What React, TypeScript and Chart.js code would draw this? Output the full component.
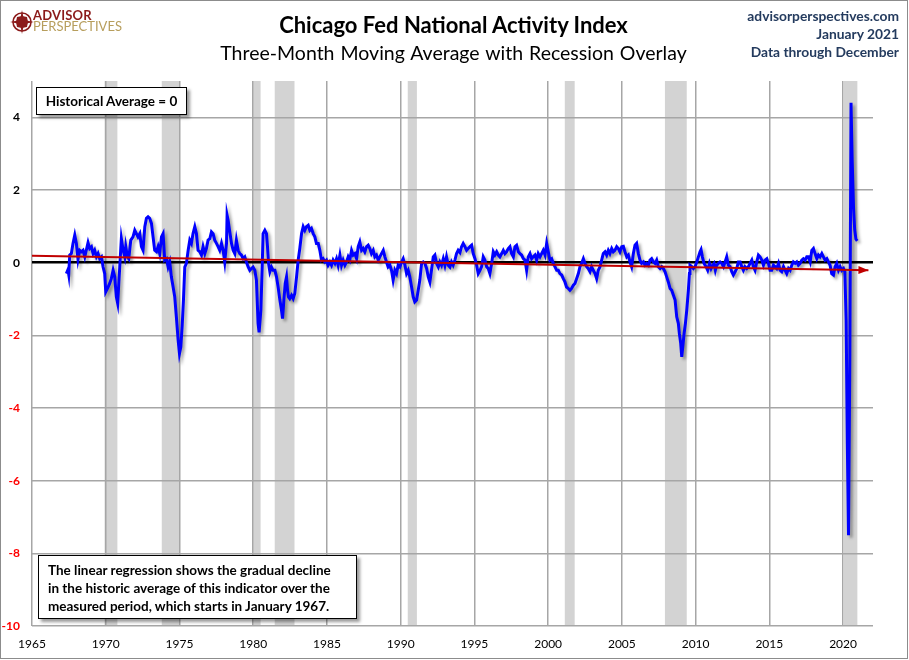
import { useEffect, useRef } from "react";
import { Chart, registerables } from "chart.js";

Chart.register(...registerables);

// CFNAI three-month moving average, [decimal year, value]
const ma3Early: [number, number][] = [
  [1967.33, -0.30], [1967.44, -0.19], [1967.49, -0.32], [1967.56, 0.21], [1967.67, 0.25], [1967.78, 0.53],
  [1967.90, 0.76], [1968.01, 0.53], [1968.12, 0.09], [1968.24, 0.34], [1968.35, 0.30], [1968.46, 0.34],
  [1968.58, 0.16], [1968.80, 0.55], [1968.91, 0.39], [1969.03, 0.44], [1969.14, 0.25], [1969.25, 0.34],
  [1969.37, 0.16], [1969.48, 0.25], [1969.59, 0.11], [1969.71, 0.16], [1969.82, -0.12], [1969.93, -0.30],
  [1970.00, -0.80], [1970.16, -0.67], [1970.27, -0.57], [1970.38, -0.44], [1970.50, -0.21], [1970.61, -0.39],
  [1970.72, -0.94], [1970.81, -1.12], [1970.95, -0.12], [1971.06, 0.66], [1971.18, 0.34], [1971.29, 0.16],
  [1971.36, 0.44], [1971.47, 0.16], [1971.56, 0.11], [1971.70, 0.62], [1971.85, 0.71], [1971.97, 0.89],
  [1972.08, 0.80], [1972.19, 0.71], [1972.31, 0.80], [1972.42, 0.44], [1972.53, 0.34], [1972.65, 0.99],
  [1972.76, 1.22], [1972.87, 1.26], [1972.98, 1.22], [1973.10, 1.08], [1973.21, 0.71], [1973.32, 0.34],
  [1973.44, 0.30], [1973.55, 0.44], [1973.66, 0.25], [1973.78, 0.71], [1973.89, 0.80], [1974.00, 0.07],
  [1974.12, 0.11], [1974.23, -0.12], [1974.34, 0.02], [1974.45, -0.39], [1974.57, -0.67], [1974.68, -0.94],
  [1974.79, -1.49], [1974.91, -2.13], [1975.00, -2.50], [1975.09, -2.32], [1975.18, -1.77], [1975.27, -1.03],
  [1975.36, -0.12], [1975.47, -0.02], [1975.59, 0.34], [1975.70, 0.62], [1975.81, 0.53], [1975.92, 0.80],
  [1976.04, 0.99], [1976.15, 0.80], [1976.26, 0.34], [1976.38, 0.30], [1976.49, 0.21], [1976.60, 0.44],
  [1976.72, 0.25], [1976.83, 0.39], [1976.94, 0.62], [1977.06, 0.66], [1977.17, 0.85], [1977.28, 0.80],
  [1977.39, 0.62], [1977.51, 0.53], [1977.62, 0.44], [1977.73, 0.34], [1977.85, 0.53], [1977.96, 0.34],
  [1978.07, 0.02], [1978.19, 0.53], [1978.23, 1.31], [1978.30, 1.17], [1978.41, 0.85], [1978.53, 0.53],
  [1978.64, 0.34], [1978.75, 0.25], [1978.86, 0.62], [1978.98, 0.34], [1979.09, 0.25], [1979.20, 0.21],
  [1979.32, 0.11], [1979.43, 0.16], [1979.54, 0.02], [1979.66, -0.12], [1979.77, -0.21], [1979.88, -0.16],
  [1979.99, -0.12], [1980.11, -0.21], [1980.22, -0.48], [1980.33, -1.67], [1980.40, -1.92], [1980.52, -1.31],
  [1980.61, -0.12], [1980.67, 0.80], [1980.79, 0.89],
];

const ma3Eighties: [number, number][] = [
  [1980.90, 0.80], [1980.97, 0.44], [1981.04, -0.02], [1981.13, -0.25], [1981.24, -0.12], [1981.35, -0.21],
  [1981.47, -0.21], [1981.58, -0.39], [1981.69, -0.67], [1981.81, -1.03], [1981.92, -1.31], [1981.99, -1.54],
  [1982.08, -1.03], [1982.17, -0.57], [1982.26, -0.39], [1982.33, -0.76], [1982.39, -0.94], [1982.48, -0.99],
  [1982.60, -0.90], [1982.71, -0.99], [1982.82, -0.85], [1982.94, -0.39], [1983.05, 0.07], [1983.16, 0.39],
  [1983.28, 0.80], [1983.39, 0.99], [1983.50, 0.89], [1983.61, 0.99], [1983.73, 1.03], [1983.84, 0.89],
  [1983.95, 0.94], [1984.07, 0.80], [1984.18, 0.71], [1984.29, 0.53], [1984.41, 0.53], [1984.52, 0.34],
  [1984.63, 0.07], [1984.74, 0.11], [1984.86, 0.02], [1984.97, 0.07], [1985.08, -0.07], [1985.20, 0.02],
  [1985.31, -0.07], [1985.42, 0.07], [1985.54, -0.02], [1985.65, 0.11], [1985.76, -0.07], [1985.88, 0.21],
  [1985.99, -0.07], [1986.10, 0.07], [1986.22, -0.07], [1986.33, 0.02], [1986.44, 0.16], [1986.55, 0.07],
  [1986.67, 0.34], [1986.78, 0.21], [1986.89, 0.25], [1987.01, 0.11], [1987.12, 0.44], [1987.23, 0.57],
  [1987.35, 0.34], [1987.46, 0.39], [1987.57, 0.30], [1987.69, 0.44], [1987.80, 0.48], [1987.91, 0.39],
  [1988.02, 0.25], [1988.14, 0.34], [1988.25, 0.16], [1988.36, 0.21], [1988.48, 0.07], [1988.59, 0.16],
  [1988.70, 0.25], [1988.82, 0.34], [1988.93, 0.16], [1989.04, 0.02], [1989.15, -0.12], [1989.27, -0.07],
  [1989.38, -0.21], [1989.49, -0.48], [1989.61, -0.21], [1989.72, -0.30], [1989.83, -0.07], [1989.95, -0.12],
  [1990.06, 0.02], [1990.17, 0.11], [1990.29, -0.07], [1990.40, -0.30], [1990.51, -0.21], [1990.62, -0.39],
  [1990.74, -0.67], [1990.85, -0.94], [1990.96, -1.08], [1991.08, -1.03], [1991.19, -0.76], [1991.30, -0.48],
  [1991.42, -0.02], [1991.53, 0.02], [1991.64, -0.02], [1991.76, -0.16], [1991.87, -0.39], [1991.98, -0.53],
  [1992.09, -0.21], [1992.21, 0.16], [1992.32, 0.21], [1992.43, -0.02], [1992.55, -0.12], [1992.66, 0.02],
  [1992.77, -0.07], [1992.89, 0.11], [1993.00, -0.07], [1993.11, 0.16], [1993.23, -0.07], [1993.34, -0.12],
  [1993.45, 0.02], [1993.56, -0.07], [1993.68, 0.07], [1993.79, 0.25], [1993.90, 0.34], [1994.02, 0.28],
];

const ma3Nineties: [number, number][] = [
  [1994.13, 0.44], [1994.24, 0.53], [1994.36, 0.44], [1994.47, 0.34], [1994.58, 0.39], [1994.70, 0.44],
  [1994.81, 0.48], [1994.92, 0.25], [1995.04, 0.11], [1995.15, -0.07], [1995.26, -0.30], [1995.38, -0.21],
  [1995.49, -0.11], [1995.60, 0.16], [1995.71, 0.07], [1995.83, -0.11], [1995.94, -0.16], [1996.05, -0.30],
  [1996.17, -0.02], [1996.28, 0.30], [1996.39, 0.21], [1996.51, 0.30], [1996.62, 0.21], [1996.73, 0.16],
  [1996.85, 0.25], [1996.96, 0.34], [1997.07, 0.25], [1997.18, 0.30], [1997.30, 0.39], [1997.41, 0.44],
  [1997.52, 0.25], [1997.64, 0.16], [1997.75, 0.44], [1997.86, 0.48], [1997.98, 0.30], [1998.09, 0.25],
  [1998.20, 0.21], [1998.32, 0.11], [1998.43, 0.07], [1998.54, -0.21], [1998.65, 0.16], [1998.77, 0.25],
  [1998.88, 0.11], [1998.99, 0.16], [1999.11, 0.21], [1999.22, 0.07], [1999.33, 0.25], [1999.45, 0.16],
  [1999.56, 0.25], [1999.67, 0.34], [1999.79, 0.21], [1999.90, 0.53], [2000.01, 0.30], [2000.12, 0.07],
  [2000.24, 0.11], [2000.35, -0.02], [2000.46, -0.11], [2000.58, -0.21], [2000.69, -0.21], [2000.80, -0.30],
  [2000.92, -0.34], [2001.03, -0.44], [2001.14, -0.53], [2001.25, -0.67], [2001.37, -0.71], [2001.48, -0.76],
  [2001.59, -0.71], [2001.71, -0.62], [2001.82, -0.57], [2001.93, -0.44], [2002.05, -0.30], [2002.16, -0.11],
  [2002.27, -0.02], [2002.39, 0.11], [2002.50, -0.02], [2002.61, -0.11], [2002.72, -0.16], [2002.84, -0.25],
  [2002.95, -0.11], [2003.06, -0.21], [2003.18, -0.30], [2003.29, -0.44], [2003.40, -0.21], [2003.52, -0.11],
  [2003.63, 0.07], [2003.74, 0.25], [2003.86, 0.30], [2003.97, 0.21], [2004.08, 0.34], [2004.19, 0.25],
  [2004.31, 0.39], [2004.42, 0.30], [2004.53, 0.34], [2004.65, 0.44], [2004.76, 0.39], [2004.87, 0.30],
  [2004.99, 0.44], [2005.10, 0.45], [2005.21, 0.30], [2005.33, 0.16], [2005.44, 0.21], [2005.55, 0.02],
  [2005.66, -0.11], [2005.78, 0.25], [2005.89, 0.48], [2006.00, 0.53], [2006.12, 0.25], [2006.23, 0.07],
  [2006.34, -0.02], [2006.46, 0.02], [2006.57, -0.07], [2006.68, -0.02], [2006.80, -0.07], [2006.91, 0.07],
  [2007.02, 0.11], [2007.14, 0.02], [2007.25, -0.02], [2007.36, 0.07], [2007.47, -0.11], [2007.59, -0.16],
];

const ma3Recent: [number, number][] = [
  [2007.70, -0.11], [2007.81, -0.16], [2007.93, -0.25], [2008.04, -0.39], [2008.15, -0.53], [2008.27, -0.71],
  [2008.38, -0.76], [2008.49, -0.89], [2008.61, -1.03], [2008.72, -1.49], [2008.83, -1.67], [2008.90, -1.95],
  [2008.99, -2.22], [2009.06, -2.59], [2009.13, -2.32], [2009.22, -1.95], [2009.31, -1.67], [2009.40, -1.31],
  [2009.51, -0.76], [2009.58, -0.30], [2009.62, -0.07], [2009.74, -0.11], [2009.85, -0.16], [2009.96, -0.11],
  [2010.08, 0.02], [2010.19, 0.16], [2010.30, 0.30], [2010.37, 0.36], [2010.46, 0.16], [2010.57, -0.02],
  [2010.71, -0.11], [2010.82, -0.21], [2010.94, -0.02], [2011.05, -0.16], [2011.16, -0.07], [2011.25, -0.02],
  [2011.34, -0.21], [2011.43, -0.07], [2011.55, -0.02], [2011.66, 0.02], [2011.77, -0.02], [2011.89, -0.11],
  [2012.00, 0.02], [2012.11, 0.16], [2012.22, -0.07], [2012.34, -0.11], [2012.45, -0.25], [2012.56, -0.34],
  [2012.68, -0.25], [2012.79, -0.16], [2012.90, 0.02], [2013.02, 0.02], [2013.13, -0.11], [2013.24, -0.21],
  [2013.35, -0.11], [2013.47, -0.16], [2013.58, -0.11], [2013.69, -0.02], [2013.81, 0.07], [2013.92, -0.11],
  [2014.03, -0.21], [2014.15, 0.02], [2014.26, 0.21], [2014.37, 0.16], [2014.49, 0.07], [2014.60, -0.07],
  [2014.71, 0.07], [2014.83, 0.11], [2014.94, -0.02], [2015.05, -0.21], [2015.16, -0.21], [2015.28, -0.07],
  [2015.39, -0.11], [2015.50, -0.16], [2015.62, -0.02], [2015.73, -0.21], [2015.84, -0.25], [2015.96, -0.11],
  [2016.07, -0.21], [2016.18, -0.30], [2016.30, -0.16], [2016.41, -0.21], [2016.52, -0.07], [2016.63, 0.02],
  [2016.75, -0.02], [2016.86, 0.02], [2016.97, -0.07], [2017.09, -0.02], [2017.20, 0.07], [2017.31, 0.11],
  [2017.43, 0.07], [2017.54, 0.16], [2017.65, 0.16], [2017.77, 0.02], [2017.88, 0.34], [2017.99, 0.39],
  [2018.10, 0.25], [2018.22, 0.11], [2018.33, 0.21], [2018.44, 0.16], [2018.56, 0.25], [2018.67, 0.16],
  [2018.78, 0.07], [2018.90, 0.11], [2019.01, 0.02], [2019.12, -0.07], [2019.23, -0.30], [2019.35, -0.34],
  [2019.46, -0.11], [2019.57, -0.02], [2019.69, -0.21], [2019.80, -0.11], [2019.91, -0.21], [2020.03, -0.16],
  [2020.12, -0.25], [2020.21, -1.60], [2020.29, -5.00], [2020.37, -7.50], [2020.46, -2.50], [2020.54, 4.40],
  [2020.62, 2.80], [2020.71, 1.50], [2020.79, 0.90], [2020.87, 0.65], [2020.96, 0.60],
];

// NBER recessions, [start, end] in decimal years
const recessions: [number, number][] = [
  [1969.92, 1970.79], [1973.8, 1975.0], [1980.0, 1980.5], [1981.46, 1982.8],
  [1990.48, 1991.1], [2001.13, 2001.8], [2007.92, 2009.4], [2020.06, 2020.97],
];

// linear regression trend end points
const trendYears = [1965, 2021.72];
const trendValues = [0.19, -0.21];

const xTicks = [1965, 1970, 1975, 1980, 1985, 1990, 1995, 2000, 2005, 2010, 2015, 2020];
const yTicks = [-10, -8, -6, -4, -2, 0, 2, 4];

const FONT = "Lato, 'Open Sans', sans-serif";

const recessionPlugin = {
  id: "recessions",
  beforeDraw(chart: any) {
    const { ctx, chartArea, scales } = chart;
    ctx.save();
    ctx.fillStyle = "#d3d3d3";
    recessions.forEach(([a, b]) => {
      const x1 = scales.x.getPixelForValue(a);
      const x2 = scales.x.getPixelForValue(b);
      ctx.fillRect(x1, chartArea.top, x2 - x1, chartArea.bottom - chartArea.top);
    });
    ctx.restore();
  },
};

const shadowPlugin = {
  id: "lineShadow",
  beforeDatasetDraw(chart: any, args: any) {
    if (args.index !== 0) return;
    const ctx = chart.ctx;
    ctx.save();
    ctx.shadowColor = "rgba(0,0,0,0.35)";
    ctx.shadowBlur = 3;
    ctx.shadowOffsetX = 2.5;
    ctx.shadowOffsetY = 2.5;
  },
  afterDatasetDraw(chart: any, args: any) {
    if (args.index !== 0) return;
    chart.ctx.restore();
  },
};

const arrowPlugin = {
  id: "trendArrow",
  afterDatasetsDraw(chart: any) {
    const { ctx, scales } = chart;
    const n = trendYears.length - 1;
    const x1 = scales.x.getPixelForValue(trendYears[n - 1]);
    const y1 = scales.y.getPixelForValue(trendValues[n - 1]);
    const x2 = scales.x.getPixelForValue(trendYears[n]);
    const y2 = scales.y.getPixelForValue(trendValues[n]);
    const ang = Math.atan2(y2 - y1, x2 - x1);
    const len = 10;
    const half = 4;
    ctx.save();
    ctx.fillStyle = "#c00000";
    ctx.translate(x2, y2);
    ctx.rotate(ang);
    ctx.beginPath();
    ctx.moveTo(0, 0);
    ctx.lineTo(-len, -half);
    ctx.lineTo(-len, half);
    ctx.closePath();
    ctx.fill();
    ctx.restore();
  },
};

function App() {
  const canvasRef = useRef<HTMLCanvasElement | null>(null);
  const chartRef = useRef<Chart | null>(null);

  useEffect(() => {
    if (!canvasRef.current) return;
    const series = [...ma3Early, ...ma3Eighties, ...ma3Nineties, ...ma3Recent].map(([x, y]) => ({ x, y }));
    const trend = trendYears.map((x, i) => ({ x, y: trendValues[i] }));

    chartRef.current = new Chart(canvasRef.current, {
      type: "line",
      data: {
        datasets: [
          {
            data: series,
            borderColor: "#0000ff",
            borderWidth: 3,
            pointRadius: 0,
            tension: 0,
            order: 1,
          },
          {
            data: trend,
            borderColor: "#c00000",
            borderWidth: 2,
            pointRadius: 0,
            order: 0,
          },
        ],
      },
      options: {
        animation: false,
        responsive: false,
        devicePixelRatio: 1,
        layout: { padding: { left: 0, right: 36, top: 81, bottom: 0 } },
        plugins: { legend: { display: false }, tooltip: { enabled: false } },
        scales: {
          x: {
            type: "linear",
            min: 1965,
            max: 2022.03,
            afterBuildTicks: (s: any) => {
              s.ticks = xTicks.map((value) => ({ value }));
            },
            afterFit: (s: any) => {
              s.height = 34;
            },
            border: { display: false },
            grid: { color: "#a6a6a6", lineWidth: 1.5, drawTicks: false },
            ticks: {
              autoSkip: false,
              maxRotation: 0,
              padding: 11,
              color: "#000",
              font: { family: FONT, size: 12 },
              callback: (v: any) => String(v),
            },
          },
          y: {
            min: -10,
            max: 5,
            afterBuildTicks: (s: any) => {
              s.ticks = yTicks.map((value) => ({ value }));
            },
            afterFit: (s: any) => {
              s.width = 32;
            },
            border: { display: false },
            grid: {
              color: (c: any) => (c.tick && c.tick.value === 0 ? "#000" : "#a6a6a6"),
              lineWidth: (c: any) => (c.tick && c.tick.value === 0 ? 2.5 : 1.5),
              drawTicks: false,
            },
            ticks: {
              padding: 12,
              color: (c: any) => (c.tick && c.tick.value < 0 ? "#ff0000" : "#000"),
              font: { family: FONT, size: 12, weight: "bold" },
              callback: (v: any) => String(v),
            },
          },
        },
      },
      plugins: [recessionPlugin, shadowPlugin, arrowPlugin],
    });

    return () => {
      if (chartRef.current) {
        chartRef.current.destroy();
        chartRef.current = null;
      }
    };
  }, []);

  return (
    <div style={{ position: "absolute", left: 0, top: 0, width: 909, height: 660, background: "#fff", fontFamily: FONT }}>
      <canvas ref={canvasRef} width={909} height={660} style={{ position: "absolute", left: 0, top: 0 }} />
      <div style={{ position: "absolute", left: 0, top: 0, width: 908, height: 659, border: "1px solid #8c8c8c", boxSizing: "border-box", pointerEvents: "none" }} />

      {/* logo */}
      <svg width="26" height="26" viewBox="-13 -13 26 26" style={{ position: "absolute", left: 9, top: 9 }}>
        <circle r="9" fill="none" stroke="#8b1a1a" strokeWidth="1.6" />
        <polygon points="0,-12 2,-2 12,0 2,2 0,12 -2,2 -12,0 -2,-2" fill="#8b1a1a" />
        <polygon points="0,-6 5,-5 6,0 5,5 0,6 -5,5 -6,0 -5,-5" fill="#8b1a1a" />
      </svg>
      <div style={{ position: "absolute", left: 33, top: 9, fontSize: 13, fontWeight: 700, color: "#8b1a1a", lineHeight: "13px", letterSpacing: 0.2 }}>
        ADVISOR
      </div>
      <div style={{ position: "absolute", left: 33, top: 20, fontSize: 13, fontWeight: 400, color: "#b79e5d", lineHeight: "13px" }}>
        PERSPECTIVES
      </div>

      {/* titles */}
      <div style={{ position: "absolute", left: 0, top: 14, width: 907, textAlign: "center", fontSize: 22, fontWeight: 700, lineHeight: 1, color: "#000" }}>
        Chicago Fed National Activity Index
      </div>
      <div style={{ position: "absolute", left: 0, top: 43, width: 907, textAlign: "center", fontSize: 19.5, fontWeight: 400, lineHeight: 1, color: "#000", wordSpacing: 1 }}>
        Three-Month Moving Average with Recession Overlay
      </div>
      <div style={{ position: "absolute", right: 10, top: 7, textAlign: "right", fontSize: 13.8, fontWeight: 700, lineHeight: "17.8px", color: "#243b5e" }}>
        <div>advisorperspectives.com</div>
        <div>January 2021</div>
        <div>Data through December</div>
      </div>

      {/* annotation boxes */}
      <div style={{ position: "absolute", left: 36, top: 87, width: 151, height: 28, boxSizing: "border-box", border: "1px solid #000", background: "#fff", boxShadow: "3px 3px 3px rgba(0,0,0,0.4)", display: "flex", alignItems: "center", justifyContent: "center", fontSize: 13.5, fontWeight: 700 }}>
        Historical Average = 0
      </div>
      <div style={{ position: "absolute", left: 38, top: 555, width: 319, height: 64, boxSizing: "border-box", border: "1px solid #000", background: "#fff", boxShadow: "3px 3px 3px rgba(0,0,0,0.4)", padding: "5px 0 0 9px", fontSize: 13.5, fontWeight: 700, lineHeight: "18px" }}>
        The linear regression shows the gradual decline
        <br />
        in the historic average of this indicator over the
        <br />
        measured period, which starts in January 1967.
      </div>
    </div>
  );
}

export default App;
